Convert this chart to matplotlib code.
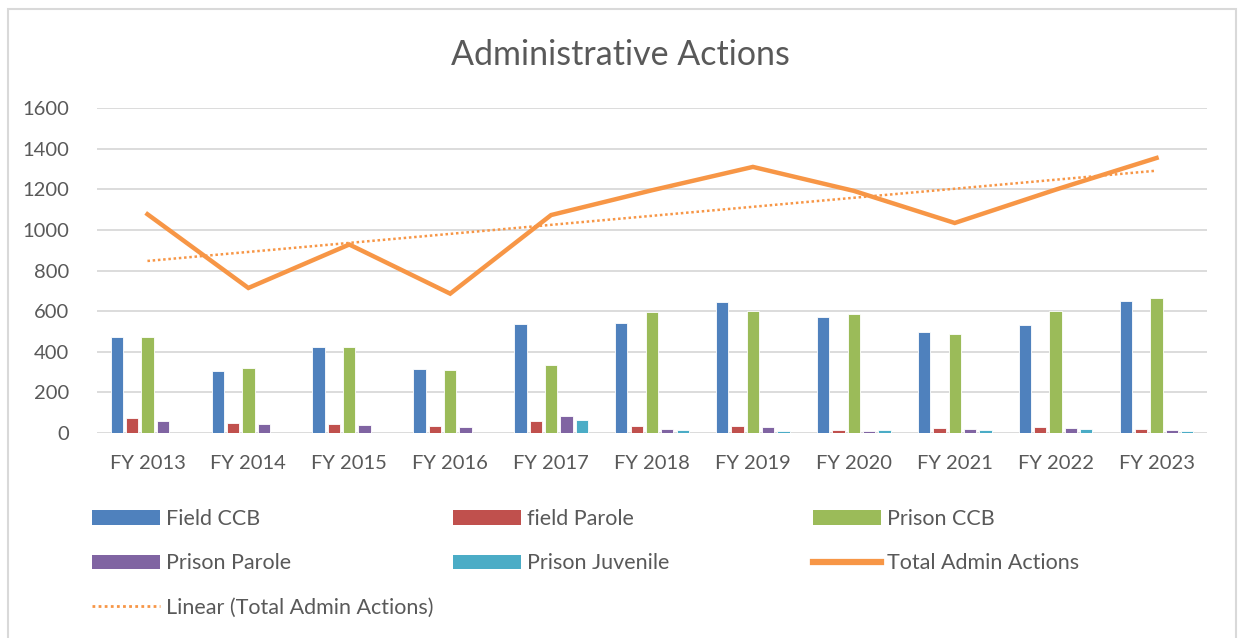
import numpy as np
import matplotlib.pyplot as plt
from matplotlib.patches import Rectangle, Patch
from matplotlib.lines import Line2D

plt.rcParams['font.family'] = ['Lato', 'DejaVu Sans']

# Data
years = ["FY 2013", "FY 2014", "FY 2015", "FY 2016", "FY 2017", "FY 2018",
         "FY 2019", "FY 2020", "FY 2021", "FY 2022", "FY 2023"]
field_ccb = [473, 307, 422, 313, 537, 540, 646, 570, 499, 533, 650]
field_parole = [75, 48, 44, 36, 59, 34, 36, 17, 26, 28, 20]
prison_ccb = [472, 320, 423, 309, 337, 596, 602, 587, 489, 601, 666]
prison_parole = [57, 43, 38, 30, 84, 21, 28, 11, 20, 23, 15]
prison_juvenile = [0, 0, 0, 0, 64, 13, 8, 15, 13, 21, 10]
total_admin = [1077, 714, 928, 686, 1073, 1195, 1310, 1192, 1034, 1198, 1354]

series = [
    ("Field CCB", field_ccb, "#4F81BD"),
    ("field Parole", field_parole, "#C0504D"),
    ("Prison CCB", prison_ccb, "#9BBB59"),
    ("Prison Parole", prison_parole, "#8064A2"),
    ("Prison Juvenile", prison_juvenile, "#4BACC6"),
]
line_color = "#F79646"
text_color = "#595959"

fig = plt.figure(figsize=(12.41, 6.38), dpi=100)
ax = fig.add_axes([97 / 1241, 1 - 433 / 638, 1110 / 1241, 325 / 638])

x = np.arange(len(years))
pitch = 0.152
width = 0.122
for i, (name, vals, col) in enumerate(series):
    ax.bar(x + (i - 2) * pitch, vals, width, color=col, edgecolor="white",
           linewidth=0.6, zorder=2)

ax.plot(x, total_admin, color=line_color, lw=3.2, solid_joinstyle="miter", zorder=3)

# linear trend of total
coef = np.polyfit(x, total_admin, 1)
ax.plot(x, np.polyval(coef, x), color=line_color, lw=1.8, linestyle=(0, (1, 1.1)), zorder=3)

ax.set_xlim(-0.5, len(years) - 0.5)
ax.set_ylim(0, 1600)
ax.set_yticks(range(0, 1601, 200))
ax.set_xticks(x)
ax.set_xticklabels(years)
ax.yaxis.grid(True, color="#D9D9D9", lw=1.3, zorder=0)
ax.set_axisbelow(True)
for s in ax.spines.values():
    s.set_visible(False)
ax.tick_params(length=0, labelsize=14.5, colors=text_color)
ax.tick_params(axis="x", pad=16)
ax.tick_params(axis="y", pad=20)

fig.text(0.5, 1 - 55 / 638, "Administrative Actions", ha="center", va="center",
         fontsize=24.5, color=text_color)

# outer border
fig.patches.append(Rectangle((7.5 / 1241, -0.05), (1236 - 7.5) / 1241, 1.05 - 8.5 / 638,
                             transform=fig.transFigure, fill=False,
                             edgecolor="#D9D9D9", lw=1.5))

# legend in three columns, row-major like the original
h = {name: Patch(facecolor=col) for name, _, col in series}
h["Total Admin Actions"] = Line2D([], [], color=line_color, lw=4.5)
h["Linear (Total Admin Actions)"] = Line2D([], [], color=line_color, lw=2,
                                           linestyle=(0, (1, 1.2)))
columns = [
    (92, ["Field CCB", "Prison Parole", "Linear (Total Admin Actions)"]),
    (453, ["field Parole", "Prison Juvenile"]),
    (813, ["Prison CCB", "Total Admin Actions"]),
]
for xpx, names in columns:
    fig.legend([h[n] for n in names], names, loc="upper left",
               bbox_to_anchor=(xpx / 1241, 1 - 509 / 638), frameon=False,
               fontsize=15.5, labelcolor=text_color, handlelength=3.15,
               handleheight=0.65, handletextpad=0.3, labelspacing=1.13,
               borderpad=0, borderaxespad=0)

fig.savefig("out.png", dpi=100)
